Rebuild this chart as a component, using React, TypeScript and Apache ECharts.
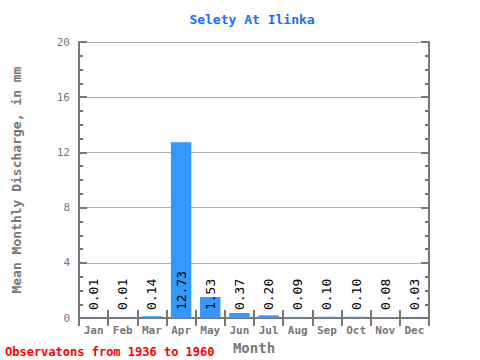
import React, { useEffect, useRef } from "react";
import * as echarts from "echarts";

const months = ["Jan", "Feb", "Mar", "Apr", "May", "Jun", "Jul", "Aug", "Sep", "Oct", "Nov", "Dec"];
const discharge = [0.01, 0.01, 0.14, 12.73, 1.53, 0.37, 0.2, 0.09, 0.1, 0.1, 0.08, 0.03];
const yTicks = { min: 0, max: 20, interval: 4 };
const titleText = "Selety At Ilinka";
const footerText = "Observatons from 1936 to 1960";

const MONO = "'DejaVu Sans Mono', 'Liberation Mono', monospace";
const AXIS = "#777777";

export default function App() {
  const ref = useRef<HTMLDivElement>(null);
  useEffect(() => {
    if (!ref.current) return;
    const chart = echarts.init(ref.current, null, { renderer: "svg" });
    const yCommon = {
      type: "value" as const,
      min: yTicks.min,
      max: yTicks.max,
      interval: yTicks.interval,
      axisLine: { show: true, lineStyle: { color: AXIS, width: 2 } },
      axisTick: { show: true, inside: true, length: 8, lineStyle: { color: AXIS, width: 2 } },
      minorTick: { show: true, splitNumber: 4, length: 4, lineStyle: { color: AXIS, width: 2 } },
    };
    const xCommon = {
      type: "category" as const,
      data: months,
      boundaryGap: true,
      axisLine: { show: true, lineStyle: { color: AXIS, width: 2 } },
      axisTick: { show: true, inside: true, length: 8, interval: 0, lineStyle: { color: AXIS, width: 2 } },
    };
    chart.setOption({
      animation: false,
      backgroundColor: "#ffffff",
      title: {
        text: titleText,
        left: 247,
        top: 8,
        textAlign: "center",
        textStyle: { fontFamily: MONO, fontSize: 13, fontWeight: "bold", color: "#1a6cff" },
      },
      grid: { left: 79, right: 51, top: 42, bottom: 38 },
      xAxis: [
        {
          ...xCommon,
          position: "bottom",
          name: "Month",
          nameLocation: "middle",
          nameGap: 20,
          nameTextStyle: { fontFamily: MONO, fontSize: 14, fontWeight: "bold", color: AXIS },
          axisLabel: { fontFamily: MONO, fontSize: 11, fontWeight: "bold", color: AXIS, margin: 7, interval: 0 },
        },
        {
          ...xCommon,
          position: "top",
          axisLabel: { show: false },
        },
      ],
      yAxis: [
        {
          ...yCommon,
          position: "left",
          name: "Mean Monthly Discharge, in mm",
          nameLocation: "middle",
          nameGap: 56,
          nameTextStyle: { fontFamily: MONO, fontSize: 13, fontWeight: "bold", color: AXIS },
          axisLabel: { fontFamily: MONO, fontSize: 11, color: AXIS, margin: 9 },
          splitLine: { show: true, lineStyle: { color: "#b0b0b0", width: 1 } },
        },
        {
          ...yCommon,
          position: "right",
          axisLabel: { show: false },
          splitLine: { show: false },
        },
      ],
      series: [
        {
          type: "bar",
          data: discharge,
          xAxisIndex: 0,
          yAxisIndex: 0,
          barWidth: "70%",
          itemStyle: { color: "#3399ff" },
          label: {
            show: true,
            position: "insideBottom",
            rotate: 90,
            align: "left",
            verticalAlign: "middle",
            distance: 8,
            fontFamily: MONO,
            fontSize: 13,
            color: "#000000",
            formatter: (p: any) => Number(p.value).toFixed(2),
          },
        },
      ],
      graphic: [
        {
          type: "text",
          left: 5,
          top: 346,
          style: { text: footerText, fontFamily: MONO, fontSize: 12, fontWeight: "bold", fill: "#ff0000" },
        },
      ],
    });
    return () => chart.dispose();
  }, []);
  return <div ref={ref} style={{ width: 480, height: 360, position: "absolute", left: 0, top: 0 }} />;
}
